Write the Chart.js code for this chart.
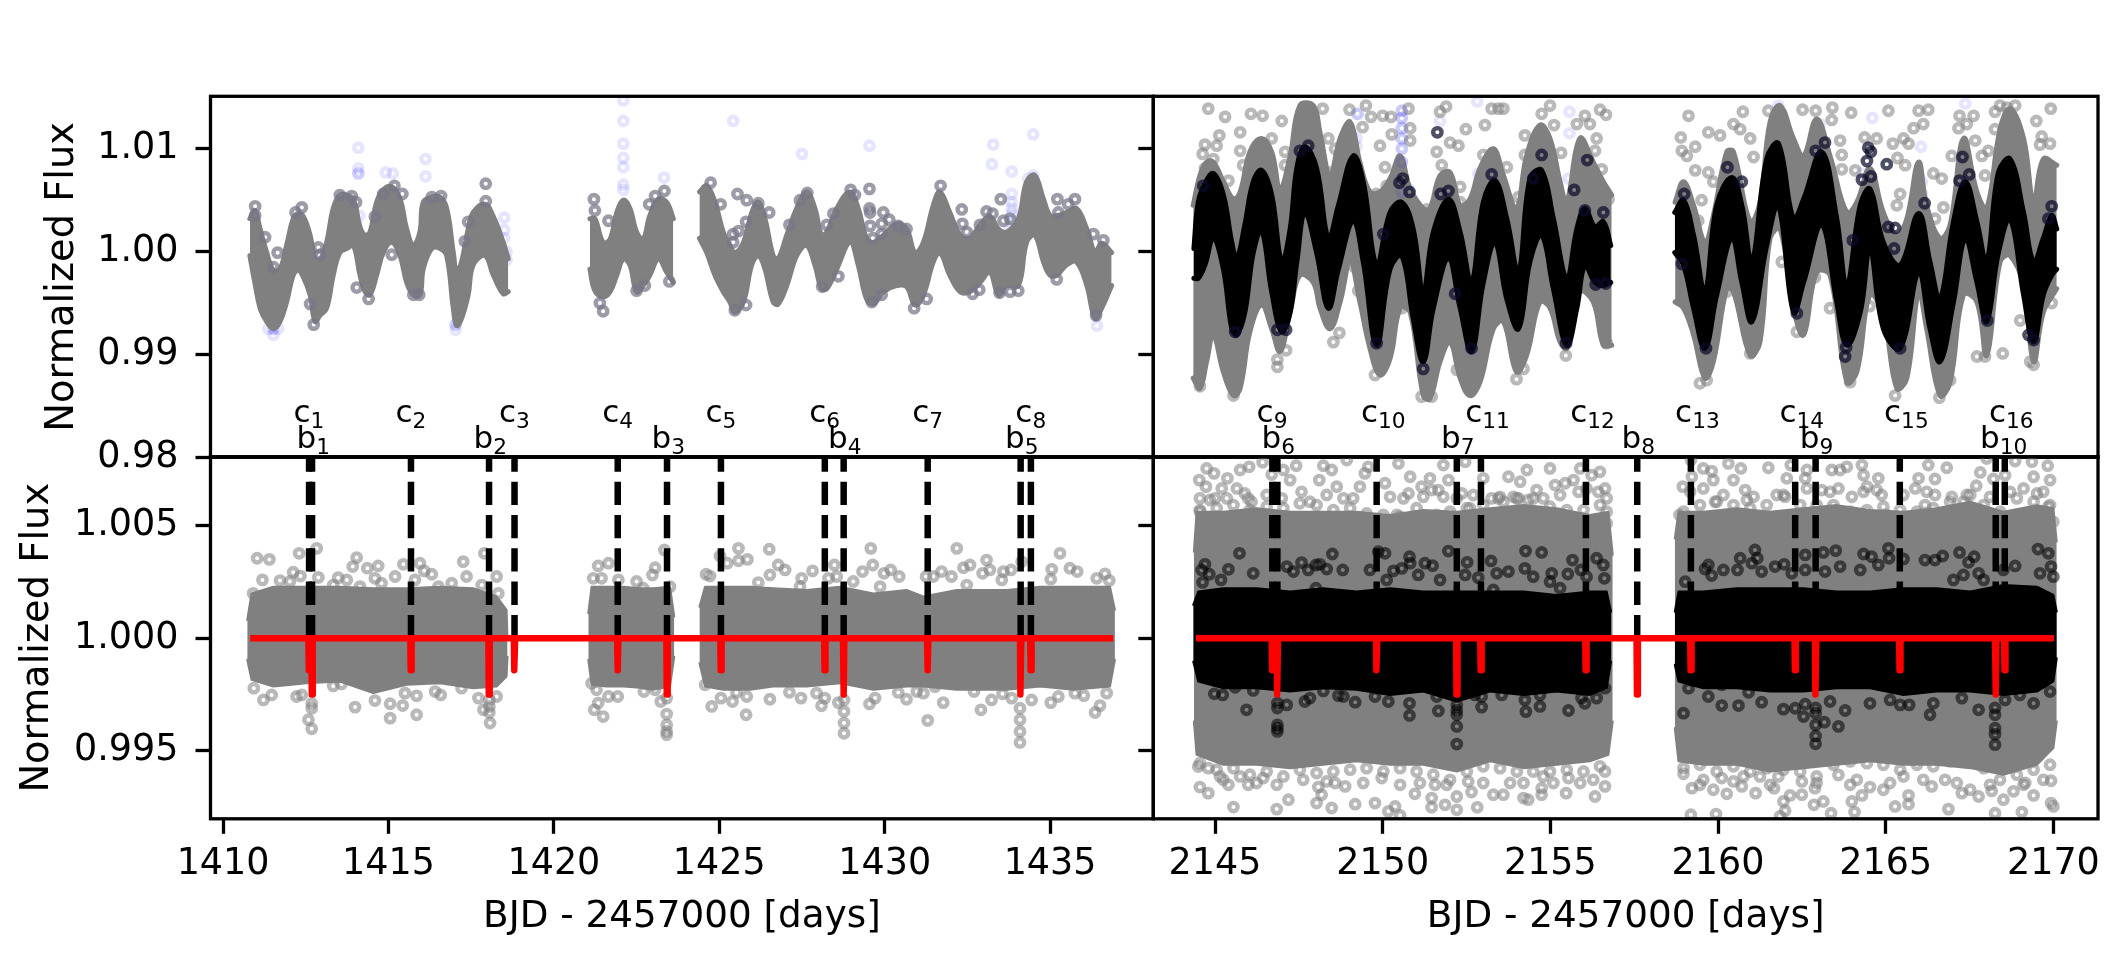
<!DOCTYPE html>
<html lang="en">
<head>
<meta charset="UTF-8" />
<title>Normalized flux light curves</title>
<script src="https://cdn.jsdelivr.net/npm/chart.js@4"></script>
<style>
  html, body { margin: 0; padding: 0; background: #fff; }
  #page { position: relative; width: 2118px; height: 963px; overflow: hidden; }
  canvas { position: absolute; display: block; }
</style>
</head>
<body>
<div id="page"></div>
<script>
// transit times
const cTimesLeft = [1412.60, 1415.68, 1418.81, 1421.93, 1425.05, 1428.19, 1431.30, 1434.42];
const bTimesLeft = [1412.69, 1418.04, 1423.42, 1428.76, 1434.11];
const cTimesRight = [2146.71, 2149.82, 2152.93, 2156.06, 2159.19, 2162.30, 2165.42, 2168.55];
const bTimesRight = [2146.86, 2152.21, 2157.59, 2162.91, 2168.28];
const cDepth = 0.99858;
const bDepth = 0.99750;

const xTicksLeft = [1410, 1415, 1420, 1425, 1430, 1435];
const xTicksRight = [2145, 2150, 2155, 2160, 2165, 2170];
const yTicksTop = [0.98, 0.99, 1.00, 1.01];
const yTicksBottom = [0.995, 1.000, 1.005];

// ---- top left: raw flux envelope per orbit chunk
const tlDaysA = [1410.81,1410.96,1411.12,1411.32,1411.52,1411.72,1411.92,1412.12,1412.27,1412.43,1412.63,1412.78,1412.93,1413.13,1413.33,1413.53,1413.74,1413.94,1414.14,1414.29,1414.44,1414.64,1414.84,1415.10,1415.35,1415.55,1415.75,1415.95,1416.05,1416.31,1416.56,1416.76,1416.96,1417.06,1417.21,1417.41,1417.56,1417.92,1418.17,1418.47,1418.62];
const tlUpA = [1.0032,1.0040,1.0022,.9999,.9982,.9983,1.0006,1.0032,1.0037,1.0034,1.0016,.9993,.9992,1.0009,1.0042,1.0055,1.0055,1.0051,1.0024,1.0016,1.0019,1.0048,1.0060,1.0063,1.0051,1.0022,1.0006,1.0019,1.0048,1.0053,1.0053,1.0042,.9999,.9980,.9990,1.0022,1.0038,1.0046,1.0034,1.0009,.9993];
const tlLoA = [.9996,.9970,.9945,.9932,.9925,.9932,.9951,.9977,.9982,.9975,.9958,.9932,.9938,.9945,.9977,.9999,1.0003,1.0006,.9977,.9961,.9958,.9977,.9999,1.0009,.9996,.9970,.9958,.9958,.9983,1.0003,1.0003,.9996,.9945,.9928,.9935,.9958,.9987,.9996,.9977,.9959,.9961];
const tlDaysB = [1421.09,1421.24,1421.49,1421.70,1421.90,1422.10,1422.30,1422.50,1422.70,1422.90,1423.16,1423.41,1423.61];
const tlUpB = [1.0032,1.0032,1.0009,1.0012,1.0038,1.0050,1.0042,1.0019,1.0012,1.0035,1.0051,1.0048,1.0032];
const tlLoB = [.9983,.9962,.9956,.9961,.9977,.9993,.9987,.9961,.9967,.9977,.9993,.9980,.9970];
const tlDaysC = [1424.40,1424.62,1424.87,1425.12,1425.32,1425.47,1425.73,1425.98,1426.18,1426.38,1426.63,1426.78,1427.04,1427.34,1427.64,1427.89,1428.09,1428.25,1428.55,1428.95,1429.20,1429.45,1429.66,1429.96,1430.36,1430.66,1430.92,1431.17,1431.47,1431.67,1431.97,1432.28,1432.58,1432.88,1433.18,1433.44,1433.69,1434.04,1434.29,1434.54,1434.80,1435.00,1435.20,1435.50,1435.80,1436.11,1436.36,1436.56,1436.86];
const tlUpC = [1.0058,1.0064,1.0048,1.0019,1.0006,.9999,1.0009,1.0038,1.0048,1.0032,.9996,.9993,1.0016,1.0042,1.0058,1.0042,1.0016,1.0019,1.0042,1.0058,1.0042,1.0013,1.0009,1.0016,1.0027,1.0022,.9999,1.0009,1.0045,1.0058,1.0038,1.0016,1.0013,1.0026,1.0034,1.0022,1.0019,1.0032,1.0068,1.0074,1.0051,1.0035,1.0035,1.0038,1.0042,1.0022,.9999,1.0008,.9999];
const tlLoC = [1.0013,.9999,.9977,.9961,.9951,.9941,.9951,.9987,.9996,.9983,.9951,.9949,.9967,.9996,1.0006,.9987,.9964,.9964,.9983,1.0009,.9987,.9954,.9949,.9961,.9967,.9966,.9948,.9958,.9990,.9999,.9977,.9961,.9961,.9970,.9980,.9958,.9967,.9967,1.0009,1.0016,.9990,.9977,.9977,.9987,.9990,.9967,.9935,.9945,.9967];
const tlGrayRings = [[1410.97,1.0044],[1410.97,1.0035],[1411.27,1.0014],[1411.65,.9999],[1411.52,.9985],[1412.19,1.0038],[1412.38,1.0043],[1412.88,1.0004],[1412.93,.9997],[1413.53,1.0055],[1413.89,1.0054],[1414.02,1.0048],[1414.04,.9965],[1414.40,.9954],[1415.18,1.0064],[1415.42,1.0056],[1414.84,1.0056],[1415.10,.9997],[1416.31,1.0053],[1416.59,1.0054],[1415.75,.9958],[1415.93,.9958],[1417.94,1.0066],[1417.94,1.0049],[1417.41,1.0029],[1417.31,1.0010],[1412.74,.9929],[1412.63,.9949],[1414.59,1.0034],[1421.21,1.0051],[1421.24,1.0040],[1421.65,1.0030],[1421.39,.9950],[1421.49,.9942],[1422.88,1.0046],[1423.06,1.0054],[1423.34,1.0059],[1423.49,.9971],[1422.75,.9967],[1422.50,.9962],
  [1424.74,1.0067],[1425.55,1.0056],[1425.83,1.0050],[1425.81,1.0029],[1425.04,1.0046],[1426.18,1.0047],[1426.51,1.0038],[1425.42,1.0017],[1425.58,1.0020],[1425.42,1.0009],[1425.81,.9948],[1425.47,.9943],[1427.66,1.0057],[1427.44,1.0050],[1427.12,1.0026],[1428.25,1.0026],[1428.45,1.0037],[1428.97,1.0060],[1429.10,1.0055],[1429.54,1.0061],[1429.54,1.0042],[1429.56,1.0038],[1429.96,1.0038],[1430.14,1.0031],[1429.91,1.0027],[1429.56,1.0025],[1429.91,1.0017],[1429.64,1.0013],[1430.41,1.0025],[1430.66,1.0022],[1431.69,1.0064],[1432.33,1.0041],[1432.35,1.0027],[1432.48,1.0019],[1433.08,1.0039],[1433.26,1.0037],[1432.88,1.0026],[1433.51,1.0051],[1433.59,1.0030],[1433.79,1.0032],[1435.22,1.0051],[1435.75,1.0051],[1435.55,1.0046],[1435.25,1.0038],[1436.61,1.0011],[1435.20,.9973],[1432.66,.9959],[1432.86,.9963],[1434.04,.9962],[1433.79,.9961],[1433.47,.9960],[1430.89,.9945],[1431.27,.9954],[1428.60,.9976],[1428.11,.9966],[1429.61,.9951],[1429.91,.9958],[1436.31,1.0017],[1436.39,.9938]];
const tlBlueRings = [[1414.09,1.0101],[1414.09,1.0081],[1414.09,1.0076],[1414.09,1.0076],[1414.92,1.0077],[1415.13,1.0076],[1416.12,1.0090],[1416.12,1.0073],[1418.50,1.0033],[1418.50,1.0021],[1418.50,1.0013],[1418.57,1.0000],[1418.57,.9992],[1411.52,.9919],[1411.37,.9925],[1411.67,.9925],[1411.52,.9925],[1411.52,.9925],[1417.03,.9924],[1417.03,.9929],[1417.03,.9929],[1422.10,1.0147],[1422.10,1.0127],[1422.10,1.0105],[1422.10,1.0091],[1422.10,1.0082],[1422.10,1.0065],[1422.10,1.0060],[1423.33,1.0072],[1414.12,1.0035],
  [1425.42,1.0127],[1427.50,1.0095],[1429.54,1.0103],[1433.28,1.0104],[1433.24,1.0085],[1433.84,1.0078],[1434.49,1.0114],[1434.34,1.0071],[1434.49,1.0074],[1433.84,1.0056],[1433.84,1.0048],[1433.84,1.0042],[1433.84,1.0037],[1433.84,1.0030],[1433.79,1.0022],[1436.42,.9928]];

// ---- top right: raw envelope (gray) and binned envelope (black)
const trGrayDaysA = [2144.35,2144.55,2144.75,2144.95,2145.25,2145.55,2145.75,2146.04,2146.39,2146.69,2146.94,2147.24,2147.53,2147.93,2148.13,2148.43,2148.73,2149.03,2149.32,2149.62,2149.92,2150.22,2150.52,2150.82,2151.21,2151.41,2151.71,2152.01,2152.31,2152.60,2152.90,2153.30,2153.60,2153.99,2154.29,2154.69,2154.99,2155.29,2155.49,2155.88,2156.28,2156.58,2156.83];
const trGrayUpA = [1.0045,1.0074,1.0087,1.0087,1.0068,1.0051,1.0058,1.0097,1.0110,1.0097,1.0061,1.0093,1.0142,1.0142,1.0116,1.0074,1.0110,1.0126,1.0087,1.0058,1.0058,1.0071,1.0093,1.0061,1.0042,1.0042,1.0074,1.0077,1.0045,1.0051,1.0081,1.0100,1.0074,1.0042,1.0093,1.0123,1.0110,1.0068,1.0048,1.0110,1.0087,1.0068,1.0055];
const trGrayLoA = [.9877,.9867,.9893,.9919,.9883,.9860,.9867,.9922,.9948,.9925,.9903,.9941,.9977,.9970,.9945,.9925,.9951,.9990,.9951,.9906,.9880,.9896,.9945,.9941,.9860,.9857,.9893,.9912,.9877,.9860,.9873,.9925,.9932,.9883,.9899,.9951,.9945,.9912,.9906,.9961,.9951,.9909,.9909];
const trGrayDaysB = [2158.72,2158.97,2159.27,2159.61,2159.86,2160.26,2160.46,2160.96,2161.25,2161.55,2161.85,2162.25,2162.55,2162.94,2163.34,2163.84,2164.14,2164.53,2164.93,2165.33,2165.63,2165.98,2166.22,2166.62,2166.92,2167.32,2167.72,2168.01,2168.41,2168.71,2169.11,2169.41,2169.70,2170.10];
const trGrayUpB = [1.0048,1.0068,1.0045,1.0009,1.0035,1.0097,1.0097,1.0029,1.0048,1.0126,1.0142,1.0110,1.0093,1.0129,1.0093,1.0038,1.0048,1.0081,1.0038,1.0016,1.0032,1.0087,1.0045,1.0013,1.0026,1.0110,1.0058,1.0042,1.0119,1.0139,1.0110,1.0048,1.0090,1.0084];
const trGrayLoB = [.9951,.9945,.9919,.9877,.9893,.9964,.9961,.9899,.9912,1.0013,1.0022,.9945,.9919,.9980,.9977,.9873,.9883,.9958,.9938,.9867,.9877,.9961,.9925,.9860,.9873,.9958,.9951,.9899,.9990,.9996,.9967,.9893,.9941,.9964];
const trBlackDaysA = [2144.37,2144.50,2144.70,2144.95,2145.25,2145.50,2145.65,2145.89,2146.14,2146.39,2146.69,2146.99,2147.24,2147.44,2147.68,2148.03,2148.38,2148.68,2149.12,2149.42,2149.82,2150.22,2150.57,2150.91,2151.21,2151.51,2151.96,2152.31,2152.65,2153.00,2153.35,2153.70,2154.05,2154.39,2154.74,2155.09,2155.49,2155.79,2156.03,2156.33,2156.58,2156.80];
const trBlackUpA = [1.0003,1.0048,1.0066,1.0076,1.0055,1.0009,.9993,1.0026,1.0068,1.0079,1.0055,.9990,1.0022,1.0081,1.0102,1.0081,1.0013,1.0045,1.0093,1.0068,.9987,1.0038,1.0048,1.0022,.9961,1.0019,1.0051,1.0019,.9970,1.0048,1.0069,1.0032,.9980,1.0071,1.0079,1.0032,.9974,1.0022,1.0042,1.0024,1.0029,1.0006];
const trBlackLoA = [.9974,.9974,.9987,1.0013,.9983,.9925,.9919,.9941,.9999,1.0021,.9961,.9922,.9941,.9990,1.0038,.9999,.9945,.9983,1.0030,.9990,.9909,.9983,.9996,.9935,.9893,.9945,.9993,.9945,.9903,.9970,1.0009,.9954,.9925,.9990,1.0016,.9964,.9909,.9945,.9987,.9970,.9967,.9970];
const trBlackDaysB = [2158.71,2158.97,2159.27,2159.61,2159.96,2160.41,2160.71,2161.01,2161.45,2161.80,2162.25,2162.55,2163.09,2163.54,2163.84,2164.24,2164.53,2164.93,2165.43,2165.98,2166.32,2166.62,2167.02,2167.37,2167.72,2168.01,2168.36,2168.71,2169.11,2169.41,2169.70,2169.95,2170.10];
const trBlackUpB = [1.0038,1.0050,1.0016,.9961,1.0045,1.0072,1.0045,.9990,1.0090,1.0105,1.0032,1.0051,1.0097,1.0032,.9967,1.0045,1.0061,1.0009,.9987,1.0037,.9990,.9954,1.0029,1.0068,1.0029,.9990,1.0077,1.0090,1.0038,.9990,1.0013,1.0035,1.0022];
const trBlackLoB = [.9999,.9987,.9945,.9906,.9958,1.0013,.9970,.9932,1.0006,1.0045,.9941,.9970,1.0026,.9951,.9909,.9941,1.0003,.9925,.9906,.9980,.9925,.9893,.9951,1.0013,.9970,.9932,.9999,1.0032,.9958,.9912,.9958,.9977,.9983];
const trGrayRings = [[2144.80,1.0139],[2145.30,1.0131],[2146.07,1.0134],[2146.42,1.0132],[2146.99,1.0127],[2148.21,1.0139],[2149.01,1.0138],[2149.50,1.0142],[2149.65,1.0131],[2150.00,1.0132],[2150.25,1.0131],[2150.77,1.0139],[2150.82,1.0120],[2150.82,1.0108],[2150.27,1.0114],[2149.92,1.0103],[2150.07,1.0082],[2151.71,1.0136],[2151.89,1.0141],[2152.48,1.0119],[2153.05,1.0123],[2153.25,1.0139],[2153.45,1.0139],[2153.60,1.0139],[2154.74,1.0134],[2154.99,1.0142],[2155.11,1.0123],[2155.32,1.0096],[2155.79,1.0124],[2156.03,1.0132],[2156.48,1.0138],[2156.66,1.0133],[2156.18,1.0124],[2156.38,1.0110],[2156.53,1.0080],[2156.33,1.0098],[2154.24,1.0113],[2154.24,1.0094],[2153.70,1.0082],[2153.00,1.0094],[2152.26,1.0103],[2152.01,1.0106],[2151.61,1.0097],[2151.76,1.0084],[2145.75,1.0116],[2145.13,1.0113],[2144.70,1.0104],[2144.63,1.0095],[2145.05,1.0103],[2144.95,1.0090],[2144.70,1.0081],[2145.75,1.0098],[2145.84,1.0084],[2146.69,1.0110],[2147.09,1.0097],[2147.09,1.0084],[2148.38,1.0110],[2148.58,1.0100],[2148.43,1.0077],[2149.40,1.0121],[2150.12,1.0064],[2149.97,1.0048],[2149.80,1.0056],[2151.31,1.0041],[2151.36,1.0030],[2152.31,1.0063],[2152.31,1.0048],[2152.80,1.0038],[2145.47,1.0049],[2145.60,1.0038],[2145.70,1.0027],[2145.40,1.0069],[2154.05,1.0053],[2154.20,1.0030],[2156.73,1.0051],[2148.53,.9912],[2148.71,.9921],[2146.86,.9888],[2146.86,.9895],[2147.12,.9904],[2149.77,.9880],[2151.46,.9859],[2151.16,.9859],[2153.99,.9876],[2154.20,.9886],[2152.21,.9885],[2155.46,.9899],[2154.91,.9962],[2149.27,.9962],[2149.16,.9985],[2145.55,.9860],[2144.55,.9869],[2144.53,.9878],[2156.68,.9911],[2150.57,.9945],[2153.25,.9964],
  [2159.12,1.0132],[2159.71,1.0116],[2160.06,1.0113],[2158.89,1.0111],[2159.32,1.0102],[2158.92,1.0098],[2159.07,1.0093],[2159.32,1.0079],[2159.71,1.0077],[2160.46,1.0124],[2160.66,1.0119],[2160.74,1.0136],[2160.96,1.0110],[2161.06,1.0092],[2161.50,1.0137],[2162.52,1.0138],[2162.91,1.0137],[2163.41,1.0140],[2163.39,1.0128],[2163.97,1.0135],[2165.08,1.0137],[2165.98,1.0137],[2166.27,1.0138],[2166.12,1.0124],[2165.83,1.0120],[2165.21,1.0105],[2165.53,1.0110],[2165.68,1.0105],[2165.35,1.0091],[2165.58,1.0084],[2164.73,1.0110],[2164.37,1.0111],[2166.42,1.0076],[2166.67,1.0071],[2167.42,1.0124],[2167.20,1.0132],[2167.17,1.0120],[2167.62,1.0132],[2167.67,1.0108],[2168.26,1.0136],[2168.41,1.0142],[2168.61,1.0140],[2168.86,1.0142],[2169.49,1.0127],[2169.92,1.0139],[2168.26,1.0119],[2169.65,1.0112],[2169.60,1.0104],[2169.90,1.0105],[2168.06,1.0098],[2167.87,1.0093],[2167.96,1.0074],[2166.97,1.0093],[2166.47,1.0032],[2166.72,1.0043],[2165.43,1.0056],[2165.33,1.0045],[2163.69,1.0094],[2163.64,1.0108],[2163.69,1.0080],[2164.09,1.0079],[2163.94,1.0029],[2159.51,1.0050],[2159.41,1.0030],[2159.86,1.0068],[2168.49,.9901],[2167.72,.9898],[2167.96,.9898],[2169.01,.9933],[2169.31,.9893],[2169.41,.9890],[2169.95,.9950],[2163.34,.9945],[2162.89,.9975],[2162.35,.9922],[2160.26,.9961],[2161.90,.9990],[2160.96,.9901],[2159.46,.9872],[2159.66,.9875],[2163.94,.9873],[2165.28,.9860],[2166.60,.9858],[2166.92,.9875],[2164.52,.9947]];
const trDarkRings = [[2151.63,1.0116],[2154.74,1.0094],[2156.10,1.0089],[2155.71,1.0060],[2153.25,1.0075],[2151.96,1.0059],[2151.73,1.0056],[2150.80,1.0058],[2150.50,1.0067],[2150.60,1.0071],[2147.78,1.0103],[2147.53,1.0098],[2156.03,1.0040],[2156.58,1.0038],[2156.35,.9968],[2156.65,.9969],[2146.86,.9924],[2147.12,.9924],[2151.21,.9886],[2145.60,.9922],[2149.82,.9911],[2152.65,.9906],[2155.47,.9911],[2152.16,.9959],[2150.02,1.0017],[2154.49,1.0071],[2144.65,1.0064],
  [2160.28,1.0082],[2158.99,1.0056],[2160.71,1.0068],[2163.19,1.0106],[2162.91,1.0098],[2164.48,1.0101],[2164.56,1.0097],[2164.44,1.0088],[2165.03,1.0085],[2164.56,1.0073],[2164.29,1.0070],[2165.28,1.0023],[2165.08,1.0024],[2165.25,1.0003],[2166.16,1.0047],[2167.29,1.0092],[2167.49,1.0075],[2167.20,1.0069],[2163.79,.9898],[2163.82,.9907],[2165.43,.9906],[2169.41,.9914],[2169.26,.9919],[2162.35,.9940],[2159.64,.9906],[2168.03,.9933],[2169.95,1.0044],[2169.85,1.0032],[2158.92,.9988],[2164.02,1.0011]];
const trBlueRings = [[2149.25,1.0134],[2150.57,1.0137],[2150.57,1.0130],[2150.57,1.0120],[2150.57,1.0110],[2150.57,1.0100],[2150.57,1.0087],[2150.57,1.0058],[2149.22,1.0110],[2149.22,1.0102],[2152.82,1.0146],[2151.71,1.0127],[2155.57,1.0136],[2155.57,1.0115],[2152.85,1.0076],[2155.54,1.0071],[2155.57,1.0040],[2155.57,1.0029],[2155.54,1.0009],[2155.49,.9993],[2152.80,1.0029],[2152.70,.9996],[2150.77,1.0061],
  [2161.80,1.0142],[2161.80,1.0130],[2161.80,1.0120],[2161.85,1.0106],[2163.04,1.0124],[2164.60,1.0130],[2164.29,1.0076],[2166.05,1.0102],[2167.37,1.0144],[2167.35,1.0105],[2167.35,1.0098],[2167.37,1.0082],[2166.08,1.0068],[2166.08,1.0056],[2166.08,1.0038],[2166.21,1.0029],[2164.24,1.0048]];

// ---- bottom left: detrended flux envelope
const blDaysA = [1410.73,1410.86,1411.52,1412.53,1413.53,1414.54,1415.55,1416.56,1417.56,1418.27,1418.57,1418.60];
const blUpA = [1.00081,1.00199,1.00229,1.00229,1.00229,1.00222,1.00222,1.00229,1.00222,1.00185,1.00126,.99992];
const blLoA = [.99904,.99815,.99785,.99800,.99808,.99756,.99793,.99800,.99778,.99785,.99830,.99918];
const blDaysB = [1421.04,1421.14,1421.59,1422.10,1422.60,1423.00,1423.51,1423.64];
const blUpB = [1.00111,1.00229,1.00229,1.00229,1.00222,1.00222,1.00229,1.00096];
const blLoB = [.99904,.99793,.99785,.99785,.99780,.99771,.99785,.99918];
const blDaysC = [1424.40,1424.57,1425.12,1425.93,1426.63,1427.64,1428.65,1429.66,1430.66,1431.17,1432.18,1433.69,1434.70,1435.70,1436.81,1436.96];
const blUpC = [1.00140,1.00229,1.00229,1.00229,1.00222,1.00214,1.00229,1.00199,1.00214,1.00185,1.00214,1.00214,1.00229,1.00229,1.00229,1.00126];
const blLoC = [.99889,.99785,.99771,.99771,.99785,.99785,.99800,.99771,.99785,.99785,.99771,.99771,.99785,.99771,.99785,.99904];
const blGrayRings = [[1411.03,1.00355],[1411.40,1.00350],[1412.30,1.00377],[1412.83,1.00399],[1412.12,1.00293],[1411.72,1.00256],[1411.19,1.00259],[1412.34,1.00276],[1412.88,1.00270],[1410.91,1.00199],[1412.02,1.00252],[1413.33,1.00236],[1413.48,1.00269],[1413.92,1.00318],[1414.04,1.00358],[1414.36,1.00311],[1414.69,1.00321],[1414.59,1.00266],[1414.79,1.00244],[1414.14,1.00229],[1413.74,1.00259],[1415.20,1.00274],[1415.45,1.00328],[1415.95,1.00333],[1416.08,1.00299],[1416.31,1.00284],[1415.80,1.00259],[1416.51,1.00229],[1416.91,1.00244],[1417.26,1.00340],[1417.90,1.00377],[1417.36,1.00274],[1418.27,1.00274],[1418.32,1.00199],[1417.82,1.00236],[1421.34,1.00321],[1421.65,1.00333],[1421.19,1.00266],[1421.44,1.00266],[1421.95,1.00259],[1422.50,1.00252],[1422.98,1.00281],[1423.06,1.00313],[1423.34,1.00392],[1423.51,1.00229],[1422.70,1.00222],
  [1410.93,.99778],[1411.22,.99726],[1411.47,.99748],[1412.22,.99741],[1412.68,.99598],[1412.58,.99638],[1412.68,.99689],[1412.68,.99710],[1412.38,.99748],[1413.33,.99788],[1413.58,.99797],[1413.99,.99694],[1414.59,.99723],[1415.05,.99709],[1415.43,.99701],[1415.05,.99645],[1415.85,.99660],[1415.85,.99744],[1415.50,.99756],[1416.41,.99763],[1416.58,.99748],[1417.21,.99778],[1417.72,.99734],[1417.87,.99682],[1418.07,.99623],[1418.05,.99697],[1418.05,.99725],[1418.05,.99670],[1418.27,.99741],[1421.22,.99682],[1421.49,.99652],[1421.34,.99712],[1421.65,.99741],[1421.93,.99741],[1421.29,.99771],[1421.14,.99800],[1422.72,.99763],[1423.06,.99771],[1423.23,.99719],[1423.41,.99734],[1423.41,.99663],[1423.41,.99615],[1423.41,.99586],[1423.41,.99571],
  [1424.60,1.00284],[1424.72,1.00276],[1425.02,1.00365],[1425.24,1.00333],[1425.58,1.00399],[1425.58,1.00344],[1425.85,1.00350],[1426.51,1.00395],[1426.53,1.00281],[1426.78,1.00325],[1426.99,1.00303],[1427.49,1.00266],[1427.82,1.00299],[1428.48,1.00325],[1428.55,1.00274],[1428.30,1.00266],[1429.05,1.00252],[1429.33,1.00296],[1429.64,1.00325],[1429.58,1.00399],[1429.98,1.00288],[1430.18,1.00303],[1430.44,1.00274],[1429.86,1.00229],[1431.25,1.00274],[1431.72,1.00296],[1431.47,1.00274],[1432.02,1.00274],[1432.38,1.00313],[1432.18,1.00399],[1432.58,1.00325],[1433.08,1.00347],[1432.96,1.00288],[1433.18,1.00303],[1433.59,1.00296],[1433.82,1.00303],[1434.14,1.00340],[1435.05,1.00306],[1435.30,1.00377],[1435.02,1.00262],[1435.60,1.00311],[1435.82,1.00296],[1436.66,1.00286],[1436.79,1.00256],[1436.41,1.00266],[1432.48,1.00236],[1433.54,1.00259],[1427.44,1.00229],[1426.18,1.00247],
  [1424.57,.99793],[1424.77,.99697],[1425.05,.99734],[1425.40,.99719],[1425.81,.99660],[1425.83,.99741],[1426.53,.99729],[1425.52,.99759],[1427.12,.99760],[1427.47,.99734],[1427.94,.99756],[1428.09,.99700],[1428.19,.99734],[1428.60,.99714],[1428.77,.99726],[1428.77,.99675],[1428.77,.99623],[1428.77,.99578],[1429.54,.99708],[1429.71,.99734],[1430.41,.99759],[1430.66,.99729],[1430.97,.99763],[1431.17,.99756],[1431.30,.99635],[1431.77,.99714],[1431.52,.99785],[1432.70,.99763],[1432.91,.99682],[1433.23,.99726],[1433.56,.99753],[1433.84,.99734],[1434.09,.99689],[1434.09,.99638],[1434.09,.99586],[1434.09,.99537],[1434.44,.99726],[1435.02,.99714],[1435.25,.99741],[1435.75,.99756],[1436.02,.99745],[1436.36,.99670],[1436.51,.99701],[1436.71,.99756]];

// ---- bottom right: raw (gray) and binned (black) envelopes
const brGrayDaysA = [2144.37,2144.45,2145.25,2146.24,2147.24,2148.23,2149.22,2150.22,2151.21,2152.21,2153.20,2154.20,2155.19,2156.18,2156.73,2156.86];
const brGrayUpA = [1.00384,1.00562,1.00562,1.00577,1.00562,1.00562,1.00562,1.00547,1.00569,1.00562,1.00577,1.00591,1.00577,1.00547,1.00562,1.00370];
const brGrayLoA = [.99630,.99482,.99438,.99438,.99423,.99438,.99453,.99438,.99438,.99408,.99453,.99423,.99438,.99453,.99482,.99630];
const brGrayDaysB = [2158.71,2158.82,2159.56,2160.56,2161.55,2162.55,2163.54,2164.53,2165.53,2166.52,2167.52,2168.51,2169.51,2170.00,2170.10];
const brGrayUpB = [1.00443,1.00562,1.00562,1.00577,1.00562,1.00577,1.00591,1.00569,1.00562,1.00577,1.00606,1.00562,1.00591,1.00577,1.00429];
const brGrayLoB = [.99600,.99453,.99438,.99438,.99408,.99423,.99438,.99453,.99438,.99438,.99423,.99393,.99438,.99512,.99630];
const brBlackDaysA = [2144.35,2144.50,2145.25,2146.24,2147.24,2148.23,2149.22,2150.22,2151.21,2152.21,2153.20,2154.20,2155.19,2156.18,2156.68,2156.81];
const brBlackUpA = [1.00148,1.00207,1.00222,1.00222,1.00207,1.00222,1.00207,1.00222,1.00207,1.00207,1.00207,1.00207,1.00192,1.00207,1.00207,1.00118];
const brBlackLoA = [.99896,.99808,.99778,.99778,.99763,.99778,.99771,.99748,.99763,.99719,.99763,.99748,.99763,.99748,.99778,.99896];
const brBlackDaysB = [2158.71,2158.82,2159.56,2160.56,2161.55,2162.55,2163.54,2164.53,2165.53,2166.52,2167.52,2168.51,2169.51,2170.00,2170.10];
const brBlackUpB = [1.00118,1.00207,1.00207,1.00222,1.00222,1.00222,1.00207,1.00207,1.00222,1.00222,1.00207,1.00236,1.00229,1.00192,1.00118];
const brBlackLoB = [.99882,.99808,.99778,.99778,.99763,.99763,.99778,.99778,.99748,.99763,.99763,.99748,.99763,.99808,.99911];
const brGrayRings = [[2144.75,1.00754],[2144.97,1.00732],[2144.53,1.00702],[2145.37,1.00710],[2144.73,1.00673],[2145.20,1.00665],[2144.55,1.00621],[2145.00,1.00621],[2145.35,1.00621],[2145.65,1.00665],[2145.89,1.00643],[2146.09,1.00606],[2145.75,1.00747],[2146.02,1.00761],[2146.42,1.00781],[2147.24,1.00702],[2147.42,1.00766],[2147.04,1.00747],[2146.69,1.00727],[2147.58,1.00650],[2146.99,1.00621],[2148.23,1.00766],[2148.48,1.00747],[2148.11,1.00702],[2148.63,1.00673],[2148.33,1.00636],[2149.12,1.00621],[2148.93,1.00791],[2149.57,1.00761],[2149.32,1.00673],[2149.47,1.00732],[2150.07,1.00688],[2150.22,1.00628],[2150.47,1.00776],[2150.82,1.00717],[2150.77,1.00643],[2151.16,1.00673],[2151.41,1.00710],[2151.66,1.00658],[2151.81,1.00769],[2151.96,1.00702],[2152.46,1.00784],[2152.36,1.00643],[2152.60,1.00577],[2153.00,1.00710],[2153.25,1.00621],[2153.75,1.00717],[2154.10,1.00695],[2153.60,1.00606],[2154.30,1.00747],[2154.59,1.00658],[2155.14,1.00680],[2154.99,1.00754],[2155.44,1.00688],[2155.69,1.00702],[2155.89,1.00754],[2156.23,1.00724],[2156.48,1.00739],[2156.63,1.00665],[2156.68,1.00621],[2155.84,1.00650],[2144.55,1.00562],[2156.68,1.00562],[2156.68,1.00510],[2154.05,1.00621],[2154.34,1.00614],[2150.42,1.00547],[2151.61,1.00547],
  [2144.50,.99430],[2144.80,.99423],[2145.15,.99386],[2145.75,.99386],[2146.24,.99357],[2145.99,.99349],[2145.40,.99349],[2144.55,.99339],[2144.80,.99312],[2145.55,.99250],[2146.84,.99349],[2146.84,.99241],[2147.19,.99283],[2148.08,.99339],[2148.18,.99305],[2148.03,.99268],[2148.48,.99246],[2148.88,.99342],[2148.58,.99357],[2149.18,.99263],[2149.77,.99268],[2149.97,.99379],[2150.37,.99253],[2150.17,.99231],[2150.52,.99213],[2150.52,.99349],[2150.96,.99309],[2151.46,.99290],[2151.46,.99249],[2151.86,.99260],[2152.21,.99297],[2152.21,.99238],[2152.65,.99317],[2152.82,.99249],[2152.55,.99364],[2153.30,.99305],[2153.60,.99305],[2154.20,.99290],[2154.34,.99283],[2154.74,.99334],[2154.74,.99305],[2155.47,.99312],[2156.33,.99297],[2156.63,.99342],[2156.63,.99408],[2155.89,.99357],[2155.54,.99379],[2154.79,.99386],[2153.80,.99357],[2151.56,.99349],
  [2159.19,1.00791],[2158.95,1.00673],[2159.22,1.00717],[2159.56,1.00754],[2159.81,1.00742],[2159.86,1.00702],[2160.31,1.00776],[2160.68,1.00754],[2160.46,1.00702],[2161.50,1.00757],[2160.81,1.00658],[2161.06,1.00628],[2159.91,1.00606],[2162.17,1.00769],[2162.65,1.00747],[2162.05,1.00710],[2162.00,1.00628],[2162.60,1.00710],[2163.09,1.00658],[2163.39,1.00747],[2163.64,1.00747],[2163.84,1.00761],[2164.29,1.00769],[2163.59,1.00665],[2163.99,1.00628],[2164.34,1.00724],[2164.78,1.00710],[2164.44,1.00673],[2164.88,1.00636],[2165.98,1.00710],[2166.27,1.00769],[2166.47,1.00707],[2166.82,1.00757],[2165.88,1.00665],[2166.47,1.00636],[2166.17,1.00591],[2166.97,1.00628],[2167.82,1.00736],[2168.01,1.00798],[2167.70,1.00677],[2168.21,1.00707],[2168.86,1.00787],[2169.36,1.00784],[2169.83,1.00766],[2169.41,1.00717],[2169.90,1.00702],[2169.11,1.00665],[2169.51,1.00643],[2168.11,1.00628],[2168.56,1.00724],[2169.85,1.00584],[2170.00,1.00517],[2158.85,1.00547],[2160.06,1.00532],[2165.03,1.00547],[2167.32,1.00606],
  [2158.97,.99398],[2159.22,.99334],[2159.46,.99349],[2159.86,.99327],[2160.26,.99309],[2160.11,.99379],[2160.71,.99342],[2160.76,.99386],[2161.12,.99312],[2161.67,.99334],[2161.25,.99386],[2161.80,.99386],[2161.95,.99275],[2162.15,.99302],[2162.00,.99234],[2162.50,.99364],[2162.50,.99305],[2162.89,.99334],[2162.86,.99260],[2163.14,.99275],[2163.37,.99223],[2163.59,.99393],[2163.99,.99275],[2164.07,.99228],[2163.94,.99349],[2164.29,.99302],[2164.53,.99339],[2164.93,.99327],[2165.28,.99253],[2165.68,.99302],[2165.68,.99263],[2165.53,.99386],[2166.37,.99342],[2166.77,.99371],[2166.87,.99241],[2167.27,.99312],[2167.52,.99327],[2167.77,.99297],[2168.16,.99322],[2168.51,.99283],[2168.81,.99320],[2169.16,.99357],[2169.41,.99302],[2169.06,.99228],[2169.93,.99367],[2169.93,.99268],[2170.00,.99253],[2168.26,.99223],[2159.19,.99216],[2159.94,.99219],[2161.85,.99209]];
// rings along the rim of the gray mass, upper then lower, per chunk
const brGrayEdgeRings = [[2144.55,1.00569],[2145.05,1.00577],[2145.55,1.00591],[2146.04,1.00569],[2146.54,1.00584],[2147.04,1.00577],[2147.53,1.00599],[2148.03,1.00591],[2148.53,1.00569],[2149.03,1.00577],[2149.52,1.00554],[2150.02,1.00547],[2150.52,1.00540],[2151.01,1.00577],[2151.51,1.00540],[2152.01,1.00562],[2152.51,1.00577],[2153.00,1.00591],[2153.50,1.00628],[2154.00,1.00621],[2154.49,1.00621],[2154.99,1.00584],[2155.49,1.00569],[2155.99,1.00569],[2156.48,1.00591],
  [2150.62,1.00621],[2151.21,1.00628],[2151.46,1.00658],[2151.81,1.00628],[2152.21,1.00621],[2152.70,1.00636],[2153.45,1.00621],[2153.90,1.00628],[2154.79,1.00621],[2155.29,1.00636],[2156.08,1.00665],[2156.43,1.00650],[2148.83,1.00621],[2147.83,1.00606],[2144.85,1.00614],[2145.99,1.00621],[2146.54,1.00636],
  [2144.55,.99445],[2145.05,.99416],[2145.55,.99423],[2146.04,.99394],[2146.54,.99408],[2147.04,.99386],[2147.53,.99416],[2148.03,.99401],[2148.53,.99408],[2149.03,.99416],[2149.52,.99423],[2150.02,.99408],[2150.52,.99423],[2151.01,.99408],[2151.51,.99394],[2152.01,.99371],[2152.51,.99408],[2153.00,.99431],[2153.50,.99423],[2154.00,.99408],[2154.49,.99408],[2154.99,.99408],[2155.49,.99416],[2155.99,.99408],[2156.48,.99431],
  [2145.25,.99371],[2146.44,.99379],[2147.63,.99371],[2148.33,.99364],[2149.42,.99357],[2151.11,.99357],[2151.91,.99349],[2153.00,.99357],[2154.20,.99357],[2155.09,.99357],[2156.28,.99371],
  [2158.97,1.00562],[2159.46,1.00591],[2159.96,1.00606],[2160.46,1.00591],[2160.96,1.00577],[2161.45,1.00591],[2161.95,1.00636],[2162.45,1.00591],[2162.94,1.00591],[2163.44,1.00591],[2163.94,1.00562],[2164.44,1.00569],[2164.93,1.00584],[2165.43,1.00569],[2165.93,1.00562],[2166.42,1.00577],[2166.92,1.00606],[2167.42,1.00636],[2167.92,1.00591],[2168.41,1.00562],[2168.91,1.00621],[2169.41,1.00606],[2169.90,1.00591],
  [2159.56,1.00665],[2160.16,1.00636],[2159.17,1.00650],[2161.75,1.00636],[2162.65,1.00665],[2163.34,1.00650],[2164.34,1.00650],[2164.73,1.00658],[2165.53,1.00636],[2166.22,1.00650],[2167.52,1.00636],[2168.71,1.00650],[2169.70,1.00650],[2160.86,1.00614],
  [2158.97,.99423],[2159.46,.99438],[2159.96,.99408],[2160.46,.99431],[2160.96,.99408],[2161.45,.99423],[2161.95,.99416],[2162.45,.99408],[2162.94,.99386],[2163.44,.99438],[2163.94,.99453],[2164.44,.99445],[2164.93,.99438],[2165.43,.99416],[2165.93,.99438],[2166.42,.99431],[2166.92,.99453],[2167.42,.99460],[2167.92,.99423],[2168.41,.99371],[2168.91,.99394],[2169.41,.99416],[2169.90,.99438],
  [2159.56,.99371],[2160.46,.99364],[2161.55,.99349],[2162.94,.99357],[2164.14,.99371],[2165.13,.99357],[2166.12,.99371],[2167.12,.99357],[2168.11,.99349],[2169.11,.99349],[2169.70,.99371]];
const brDarkRings = [[2145.73,1.00377],[2148.50,1.00374],[2144.70,1.00328],[2144.60,1.00303],[2144.83,1.00284],[2144.63,1.00248],[2145.40,1.00306],[2145.18,1.00259],[2146.14,1.00288],[2147.14,1.00318],[2147.34,1.00296],[2147.58,1.00336],[2147.78,1.00303],[2148.01,1.00325],[2148.13,1.00328],[2148.33,1.00307],[2148.81,1.00303],[2148.01,1.00222],[2149.62,1.00303],[2149.87,1.00384],[2150.07,1.00377],[2150.12,1.00259],[2150.32,1.00299],[2150.57,1.00310],[2150.80,1.00362],[2150.82,1.00333],[2151.06,1.00281],[2151.26,1.00333],[2151.49,1.00322],[2151.96,1.00387],[2152.52,1.00337],[2152.46,1.00281],[2152.85,1.00269],[2153.23,1.00343],[2153.40,1.00288],[2153.75,1.00296],[2154.26,1.00387],[2154.74,1.00381],[2154.24,1.00310],[2154.49,1.00273],[2155.04,1.00288],[2155.52,1.00285],[2155.66,1.00347],[2155.91,1.00303],[2156.08,1.00273],[2156.38,1.00355],[2156.58,1.00325],[2156.61,1.00266],[2154.99,1.00251],[2155.29,1.00222],[2153.30,1.00214],[2151.71,1.00259],
  [2144.98,.99753],[2145.23,.99748],[2145.60,.99782],[2146.14,.99768],[2145.94,.99682],[2146.86,.99712],[2146.86,.99615],[2146.86,.99586],[2146.86,.99600],[2146.86,.99690],[2147.14,.99704],[2147.68,.99719],[2147.83,.99734],[2148.23,.99766],[2148.68,.99745],[2148.83,.99741],[2149.18,.99716],[2149.77,.99741],[2150.17,.99719],[2150.80,.99711],[2150.80,.99657],[2151.61,.99741],[2151.66,.99677],[2152.21,.99704],[2152.21,.99680],[2152.21,.99660],[2152.21,.99608],[2152.21,.99530],[2152.75,.99748],[2152.95,.99694],[2152.95,.99741],[2153.55,.99748],[2154.24,.99726],[2154.27,.99674],[2154.69,.99697],[2154.69,.99748],[2155.54,.99679],[2155.93,.99734],[2156.03,.99711],[2156.38,.99734],[2156.63,.99778],
  [2160.66,1.00355],[2161.10,1.00392],[2161.17,1.00355],[2161.01,1.00333],[2159.71,1.00325],[2159.61,1.00307],[2160.16,1.00303],[2160.58,1.00303],[2159.81,1.00278],[2159.02,1.00251],[2161.30,1.00296],[2161.70,1.00318],[2161.97,1.00328],[2162.20,1.00288],[2162.60,1.00370],[2162.60,1.00303],[2163.14,1.00381],[2163.51,1.00389],[2163.64,1.00318],[2163.19,1.00296],[2164.34,1.00374],[2164.58,1.00362],[2164.78,1.00325],[2164.24,1.00303],[2165.08,1.00399],[2165.10,1.00355],[2165.53,1.00352],[2166.17,1.00347],[2166.47,1.00347],[2166.70,1.00365],[2167.20,1.00381],[2167.47,1.00337],[2167.64,1.00362],[2167.32,1.00281],[2167.77,1.00288],[2167.92,1.00259],[2168.86,1.00321],[2169.54,1.00396],[2169.85,1.00377],[2169.93,1.00318],[2170.00,1.00273],[2169.60,1.00288],[2168.51,1.00303],[2167.02,1.00259],
  [2158.97,.99667],[2159.12,.99778],[2159.71,.99741],[2160.11,.99701],[2160.61,.99701],[2160.11,.99793],[2160.91,.99760],[2161.30,.99716],[2161.95,.99685],[2162.30,.99689],[2162.55,.99652],[2162.60,.99707],[2162.91,.99667],[2162.91,.99690],[2162.91,.99615],[2162.91,.99566],[2162.91,.99531],[2163.17,.99627],[2163.59,.99608],[2163.79,.99679],[2163.34,.99719],[2164.53,.99711],[2165.13,.99726],[2165.43,.99704],[2165.70,.99704],[2166.32,.99660],[2166.42,.99711],[2167.27,.99734],[2167.77,.99682],[2168.26,.99690],[2168.26,.99660],[2168.26,.99600],[2168.26,.99574],[2168.26,.99527],[2168.56,.99726],[2169.41,.99711],[2169.90,.99763],[2169.00,.99748]];

const AXIS_FONT = { family: "DejaVu Sans", size: 36.5 };
const X_TITLE_FONT = { family: "DejaVu Sans", size: 37.3 };
const Y_TITLE_FONT = { family: "DejaVu Sans", size: 38.4 };
const GRAY = "#808080";
const ringGray = "rgba(128,128,128,0.55)";
const ringGrayBlue = "rgba(118,118,136,0.72)";
const ringDark = "rgba(0,0,0,0.55)";
const ringDarkBlue = "rgba(10,10,40,0.72)";
const ringBlue = "rgba(0,0,255,0.1)";

Chart.defaults.font.family = "DejaVu Sans";
Chart.defaults.color = "#000";

// filled mass between two envelopes; the light curve panels get rounded peaks
function band(days, up, lo, color, soft) {
  const base = {
    borderColor: color, backgroundColor: color, borderWidth: soft ? 5 : 2,
    borderJoinStyle: "round", borderCapStyle: "round", pointRadius: 0, tension: soft ? 0.4 : 0,
  };
  return [
    { ...base, data: days.map((d, i) => [d, up[i]]), fill: "+1" },
    { ...base, data: days.map((d, i) => [d, lo[i]]), fill: false },
  ];
}

function rings(data, color) {
  return {
    data, showLine: false, pointRadius: 4.2, pointBorderWidth: 4.4,
    pointBorderColor: color, pointBackgroundColor: "transparent",
  };
}

function dashes(times) {
  return times.map((t) => ({
    data: [[t, 1.0], [t, 1.012]], pointRadius: 0, borderColor: "#000",
    borderWidth: 6.5, borderDash: [23.3, 10], borderCapStyle: "butt",
  }));
}

// flat line at 1 with a spike down at each transit
function model(start, end, cTimes, bTimes) {
  const dips = cTimes.map((t) => [t, cDepth]).concat(bTimes.map((t) => [t, bDepth]));
  dips.sort((a, b) => a[0] - b[0]);
  const pts = [[start, 1]];
  dips.forEach(([t, d]) => pts.push([t - 0.02, 1], [t - 0.008, d], [t + 0.008, d], [t + 0.02, 1]));
  pts.push([end, 1]);
  return {
    data: pts, pointRadius: 0, borderColor: "#f00", borderWidth: 6.5,
    borderJoinStyle: "round", borderCapStyle: "butt", tension: 0,
  };
}

const spines = {
  id: "spines",
  afterDraw(chart) {
    const { ctx, chartArea: a } = chart;
    ctx.save();
    ctx.strokeStyle = "#000";
    ctx.lineWidth = 3.3;
    ctx.strokeRect(a.left, a.top, a.right - a.left, a.bottom - a.top);
    ctx.restore();
  },
};

// c_n / b_n labels, tied to the transit times through the chart's scales
const transitLabels = {
  id: "transitLabels",
  afterDraw(chart, _args, opts) {
    if (!opts.groups) return;
    const { ctx, scales } = chart;
    ctx.save();
    ctx.fillStyle = "#000";
    ctx.textBaseline = "alphabetic";
    opts.groups.forEach((g) => {
      g.times.forEach((t, i) => {
        const x = scales.x.getPixelForValue(t - 0.47);
        const y = scales.y.getPixelForValue(g.y);
        ctx.font = '31px "DejaVu Sans"';
        ctx.fillText(g.name, x, y);
        const w = ctx.measureText(g.name).width;
        ctx.font = '21.7px "DejaVu Sans"';
        ctx.fillText(String(g.first + i), x + w, y + 6);
      });
    });
    ctx.restore();
  },
};

function addPanel(p) {
  const canvas = document.createElement("canvas");
  canvas.width = p.w;
  canvas.height = p.h;
  canvas.style.left = p.x + "px";
  canvas.style.top = p.y + "px";
  document.getElementById("page").appendChild(canvas);

  const datasets = p.layers.map((d, i) => ({ ...d, order: -i }));
  new Chart(canvas, {
    type: "line",
    data: { datasets },
    plugins: [spines, transitLabels],
    options: {
      responsive: false,
      animation: false,
      events: [],
      layout: { autoPadding: false, padding: { top: p.padTop, bottom: p.padBottom, left: 0, right: p.padRight } },
      plugins: { legend: { display: false }, tooltip: { enabled: false }, transitLabels: { groups: p.labels } },
      scales: {
        x: {
          type: "linear", min: p.xMin, max: p.xMax, display: !!p.xTicks,
          afterBuildTicks(s) { if (p.xTicks) s.ticks = p.xTicks.map((value) => ({ value })); },
          afterFit(s) {
            if (p.xHeight) s.height = p.xHeight;
            s.paddingLeft = 0; s.paddingRight = 0;
          },
          border: { display: false },
          grid: { drawOnChartArea: false, tickLength: 15, tickWidth: 3.3, tickColor: "#000" },
          ticks: { font: AXIS_FONT, color: "#000", padding: 9, autoSkip: false, maxRotation: 0, minRotation: 0, callback: (v) => String(v) },
          title: { display: !!p.xTicks, text: "BJD - 2457000 [days]", font: X_TITLE_FONT, color: "#000", padding: { top: 0, bottom: 23 } },
        },
        y: {
          type: "linear", min: p.yMin, max: p.yMax,
          afterBuildTicks(s) { s.ticks = p.yTicks.map((value) => ({ value })); },
          afterFit(s) {
            s.width = p.yWidth;
            s.paddingTop = 0; s.paddingBottom = 0;
          },
          border: { display: false },
          grid: { drawOnChartArea: false, tickLength: 15, tickWidth: 3.3, tickColor: "#000" },
          ticks: { display: !!p.yDigits, font: AXIS_FONT, color: "#000", padding: 17, callback: (v) => v.toFixed(p.yDigits || 0) },
          title: { display: !!p.yDigits, text: "Normalized Flux", font: Y_TITLE_FONT, color: "#000", padding: { top: p.yTitlePad || 0, bottom: 0 } },
        },
      },
    },
  });
}

// top left
addPanel({
  x: 0, y: 0, w: 1160, h: 480, padTop: 96.3, padBottom: 22.7, padRight: 6.7, yWidth: 210.5,
  xMin: 1409.62, xMax: 1438.12, yMin: 0.98, yMax: 1.0151, yTicks: yTicksTop, yDigits: 2, yTitlePad: 40,
  layers: [
    rings(tlBlueRings, ringBlue),
    ...band(tlDaysA, tlUpA, tlLoA, GRAY, true), ...band(tlDaysB, tlUpB, tlLoB, GRAY, true), ...band(tlDaysC, tlUpC, tlLoC, GRAY, true),
    rings(tlGrayRings, ringGrayBlue),
  ],
  labels: [
    { name: "c", first: 1, times: cTimesLeft, y: 0.98346 },
    { name: "b", first: 1, times: bTimesLeft, y: 0.98087 },
  ],
});

// top right
addPanel({
  x: 1100, y: 0, w: 1018, h: 480, padTop: 96.3, padBottom: 22.7, padRight: 20, yWidth: 53.3,
  xMin: 2143.16, xMax: 2171.33, yMin: 0.98, yMax: 1.0151, yTicks: yTicksTop,
  layers: [
    rings(trBlueRings, ringBlue),
    ...band(trGrayDaysA, trGrayUpA, trGrayLoA, GRAY, true), ...band(trGrayDaysB, trGrayUpB, trGrayLoB, GRAY, true),
    rings(trGrayRings, ringGray),
    rings(trBlueRings.slice(0, 8), "rgba(40,40,220,0.14)"),
    ...band(trBlackDaysA, trBlackUpA, trBlackLoA, "#000", true), ...band(trBlackDaysB, trBlackUpB, trBlackLoB, "#000", true),
    rings(trDarkRings, ringDarkBlue),
  ],
  labels: [
    { name: "c", first: 9, times: cTimesRight, y: 0.98346 },
    { name: "b", first: 6, times: bTimesRight, y: 0.98087 },
  ],
});

// bottom left
addPanel({
  x: 0, y: 440, w: 1160, h: 523, padTop: 16.7, padBottom: 0, padRight: 6.7, yWidth: 210.5, xHeight: 144.2,
  xMin: 1409.62, xMax: 1438.12, xTicks: xTicksLeft, yMin: 0.99198, yMax: 1.00806, yTicks: yTicksBottom, yDigits: 3, yTitlePad: 15,
  layers: [
    ...band(blDaysA, blUpA, blLoA, GRAY), ...band(blDaysB, blUpB, blLoB, GRAY), ...band(blDaysC, blUpC, blLoC, GRAY),
    rings(blGrayRings, ringGray),
    ...dashes(cTimesLeft), ...dashes(bTimesLeft),
    model(1410.82, 1436.91, cTimesLeft, bTimesLeft),
  ],
});

// bottom right
addPanel({
  x: 1100, y: 440, w: 1018, h: 523, padTop: 16.7, padBottom: 0, padRight: 20, yWidth: 53.3, xHeight: 144.2,
  xMin: 2143.16, xMax: 2171.33, xTicks: xTicksRight, yMin: 0.99198, yMax: 1.00806, yTicks: yTicksBottom,
  layers: [
    ...band(brGrayDaysA, brGrayUpA, brGrayLoA, GRAY), ...band(brGrayDaysB, brGrayUpB, brGrayLoB, GRAY),
    rings(brGrayRings, ringGray), rings(brGrayEdgeRings, ringGray),
    ...dashes(cTimesRight), ...dashes(bTimesRight),
    ...band(brBlackDaysA, brBlackUpA, brBlackLoA, "#000"), ...band(brBlackDaysB, brBlackUpB, brBlackLoB, "#000"),
    rings(brDarkRings, ringDark),
    model(2144.43, 2170.02, cTimesRight, bTimesRight),
  ],
});
</script>
</body>
</html>
